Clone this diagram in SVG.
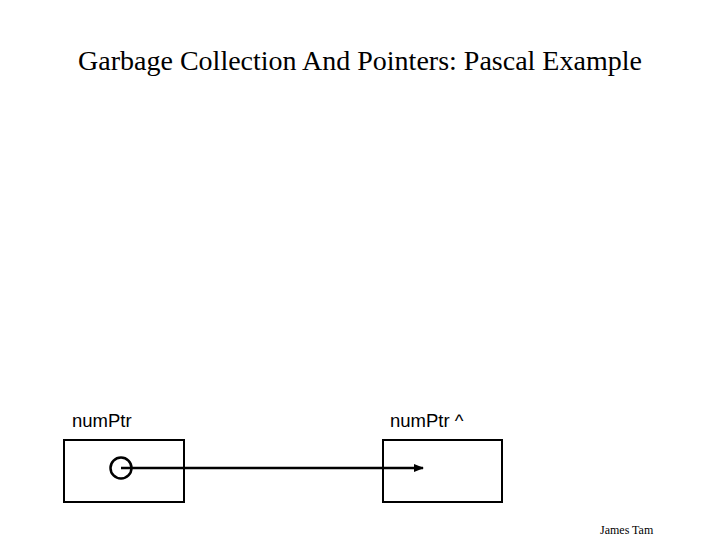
<svg xmlns="http://www.w3.org/2000/svg" width="720" height="540" viewBox="0 0 720 540">
<style>
.box{fill:#fff;stroke:#000;stroke-width:2}
.lbl{font-family:"Liberation Sans",Arial,sans-serif;font-size:18.5px;fill:#000}
.title{font-family:"Liberation Serif","Times New Roman",serif;font-size:28px;fill:#000}
.foot{font-family:"Liberation Serif","Times New Roman",serif;font-size:12px;fill:#000}
</style>
<defs>
<marker id="arr" markerWidth="10" markerHeight="8" refX="9" refY="4" orient="auto" markerUnits="userSpaceOnUse">
<path d="M0,0 L10,4 L0,8 Z" fill="#000"/>
</marker>
</defs>
<rect width="720" height="540" fill="#fff"/>
<text class="title" x="360" y="70" text-anchor="middle">Garbage Collection And Pointers: Pascal Example</text>
<g id="numPtr">
<rect class="box" x="64" y="440" width="120" height="62"/>
<text class="lbl" x="72" y="427">numPtr</text>
<circle cx="121" cy="468" r="10.5" fill="none" stroke="#000" stroke-width="2.5"/>
</g>
<g id="numPtrTarget">
<rect class="box" x="383" y="440" width="119" height="62"/>
<text class="lbl" x="390" y="427">numPtr ^</text>
</g>
<g id="connectors">
<line x1="121" y1="468" x2="423" y2="468" stroke="#000" stroke-width="2.5" marker-end="url(#arr)"/>
</g>
<text class="foot" x="600" y="534">James Tam</text>
</svg>
